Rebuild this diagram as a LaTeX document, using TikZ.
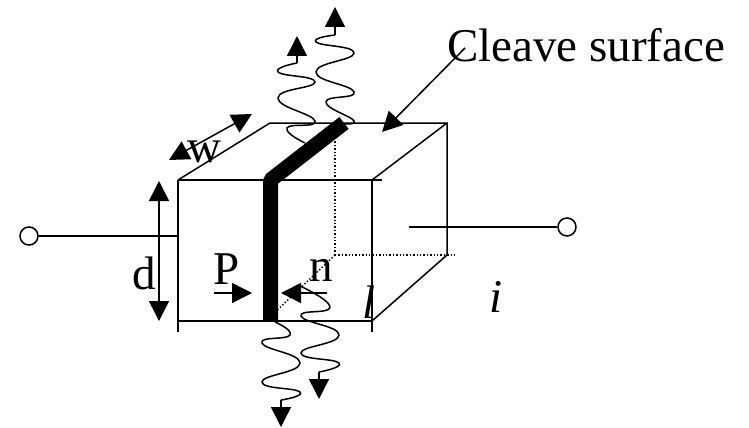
\documentclass[tikz,border=0pt]{standalone}
\usepackage{fontspec}
\setmainfont{Liberation Serif}
\usetikzlibrary{arrows.meta}
\newcommand{\wave}[1]{%
    \draw[thin line] plot[smooth, tension=0.9] coordinates {#1};
}
\tikzset{
    thin line/.style={line width=1.5pt, black},
    head line/.style={thin line, -{Triangle[length=20pt, width=20pt]}},
    dot line/.style={line width=1.4pt, black, dash pattern=on 1.4pt off 2pt},
    terminal/.style={circle, draw, line width=1.5pt, fill=white, minimum size=18pt, inner sep=0pt},
    label/.style={font=\fontsize{47}{47}\selectfont, inner sep=0pt, anchor=base west},
}
\begin{document}
\begin{tikzpicture}[x=1pt, y=-1pt]
    \useasboundingbox (0,0) rectangle (749,428);
    % Box corners
    \coordinate (ftl) at (178,180);
    \coordinate (ftr) at (372,180);
    \coordinate (fbl) at (178,321);
    \coordinate (fbr) at (372,321);
    \coordinate (btl) at (270,123);
    \coordinate (btr) at (447,123);
    \coordinate (bbr) at (447,255);
    \coordinate (bbl) at (335,255);
    % Hidden edges
    \draw[dot line] (bbl) -- (335,140);
    \draw[dot line] (bbl) -- (457,255);
    \draw[dot line] (bbl) -- (270,317);
    % Visible edges
    \draw[thin line] (ftl) -- (382,180);
    \draw[thin line] (178,180) -- (178,332);
    \draw[thin line] (372,180) -- (372,332);
    \draw[thin line] (fbl) -- (fbr);
    \draw[thin line] (ftl) -- (btl) -- (btr) -- (bbr) -- (fbr);
    \draw[thin line] (ftr) -- (btr);
    % Wires
    \node[terminal] (left) at (29,236) {};
    \node[terminal] (right) at (567,227) {};
    \coordinate (leftend) at (178,236);
    \coordinate (rightend) at (409,227);
    \draw[thin line] (left) -- (leftend);
    \draw[thin line] (rightend) -- (right);
    % Waves
    \wave{(297,63) (278,72) (315,82) (278,98) (315,121) (287,128) (305,143)}
    \wave{(335,35) (316,42) (354,53) (316,72) (354,92) (326,102) (354,121) (337,123)}
    \wave{(275,322) (290,335) (262,343) (300,363) (262,382) (300,392) (281,400)}
    \wave{(300,286) (330,307) (301,316) (339,335) (301,353) (339,363) (319,372)}
    \draw[head line] (297,63) -- (297,36);
    \draw[head line] (335,35) -- (335,7);
    \draw[head line] (281,400) -- (281,427);
    \draw[head line] (319,372) -- (319,399);
    % Cleaved strip
    \draw[line width=15pt, line join=bevel] (270.5,321) -- (270.5,180) -- (344,123);
    % Labels
    \node[label] (cleave) at (447,62) {Cleave surface};
    \node[label] (width) at (187,162) {w};
    \node[label] (depth) at (132,289) {d};
    \node[label] (pside) at (213,284) {P};
    \node[label] (nside) at (309,281) {n};
    \node[label] (length) at (362,318) {\textit{l}};
    \node[label] (current) at (489,312) {\textit{i}};
    % Arrows
    \coordinate (cleavefrom) at (465,48);
    \coordinate (cleaveto) at (382,132);
    \draw[head line] (cleavefrom) -- (cleaveto);
    \draw[head line, {Triangle[length=20pt, width=20pt]}-{Triangle[length=20pt, width=20pt]}] (169,160) -- (252,114);
    \draw[head line, {Triangle[length=20pt, width=20pt]}-{Triangle[length=20pt, width=20pt]}] (159,181) -- (159,321);
    \draw[head line] (214,293) -- (252,293);
    \draw[head line] (327,293) -- (281,293);
\end{tikzpicture}
\end{document}
